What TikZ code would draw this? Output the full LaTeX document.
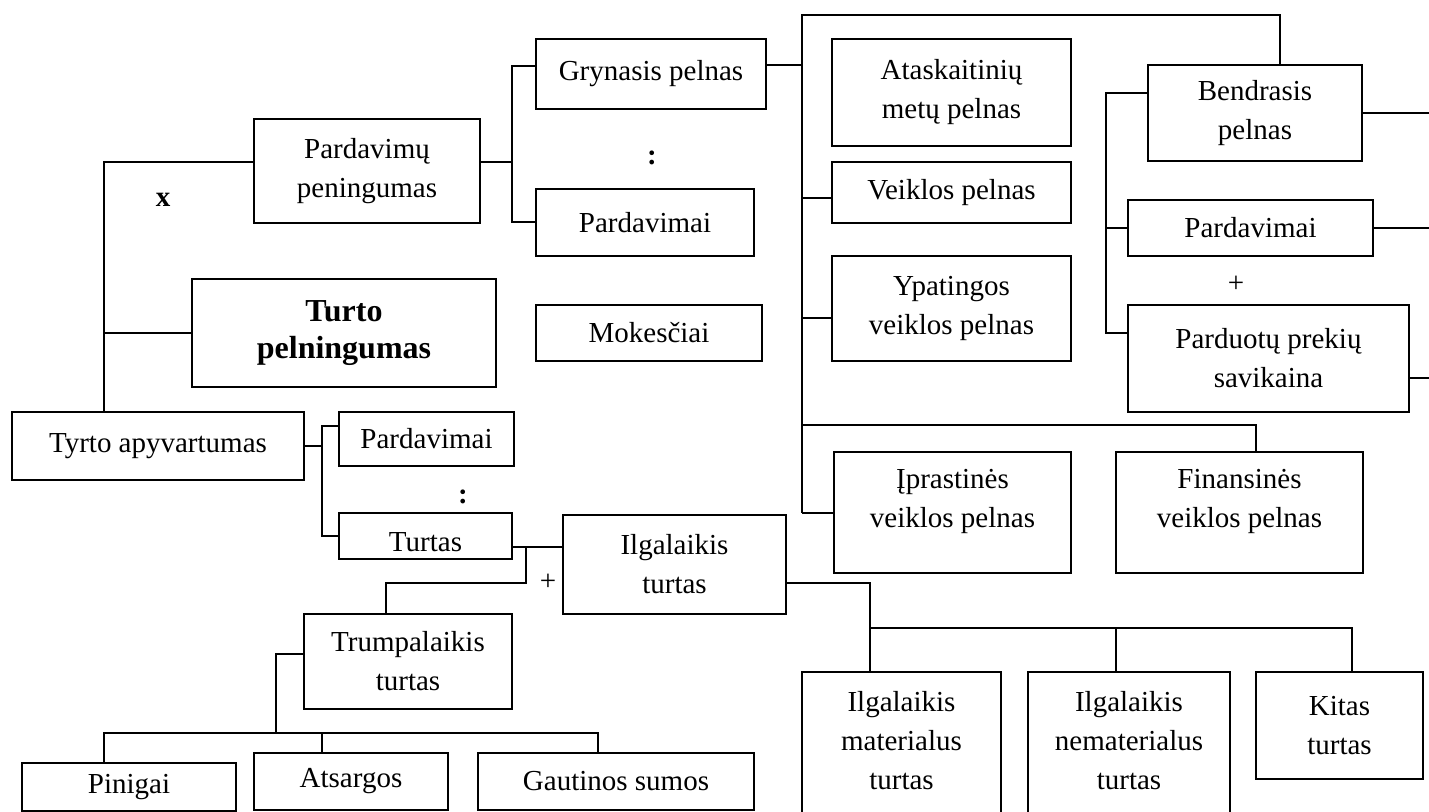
\documentclass[tikz,border=0pt]{standalone}
\usepackage{fontspec}
\setmainfont{Liberation Serif}
\usepackage{tikz}
\usetikzlibrary{positioning, calc}
\tikzset{
  block/.style={rectangle, draw, line width=1pt, align=center, inner sep=2pt,
    font=\fontsize{14.5}{19.5}\selectfont},
  wh/.style 2 args={minimum width=#1*0.5pt, minimum height=#2*0.5pt},
  line/.style={line width=1pt},
  sym/.style={font=\fontsize{14.5}{17}\selectfont\bfseries, inner sep=0pt},
  plus/.style={font=\fontsize{14.5}{17}\selectfont, inner sep=0pt}
}
\begin{document}
\begin{tikzpicture}[x=0.5pt, y=-0.5pt]
  \clip (0,0) rectangle (1429,812);
  % ── Upper left ──
  \node[block, wh={226}{104}] (pp) at (367,171) {Pardavimų\\peningumas};
  \node[block, wh={304}{108}, font=\fontsize{16}{18.5}\selectfont\bfseries] (tp) at (344,333) {Turto\\pelningumas};
  \node[block, wh={292}{68}] (ta) at (158,446) {Tyrto apyvartumas};
  \node[sym] (mx) at (163,200) {x};
  % ── Pelnas / pardavimai ──
  \node[block, wh={230}{70}] (gp) at (651,74) {Grynasis pelnas};
  \node[block, wh={218}{67}] (pd1) at (645,222.5) {Pardavimai};
  \node[block, wh={226}{56}] (mk) at (649,333) {Mokesčiai};
  \node[sym] (dv1) at (652,158) {:};
  % ── Pelno rūšys ──
  \node[block, wh={239}{107}] (amp) at (951.5,92.5) {Ataskaitinių\\metų pelnas};
  \node[block, wh={239}{61}] (vp) at (951.5,192.5) {Veiklos pelnas};
  \node[block, wh={239}{105}] (yvp) at (951.5,308.5) {Ypatingos\\veiklos pelnas};
  \node[block, wh={237}{121}, text depth=14.5pt] (ivp) at (952.5,512.5) {Įprastinės\\veiklos pelnas};
  \node[block, wh={247}{121}, text depth=14.5pt] (fvp) at (1239.5,512.5) {Finansinės\\veiklos pelnas};
  % ── Bendrasis pelnas ──
  \node[block, wh={214}{96}] (bp) at (1255,113) {Bendrasis\\pelnas};
  \node[block, wh={245}{56}] (pd2) at (1250.5,228) {Pardavimai};
  \node[block, wh={281}{107}] (pps) at (1268.5,358.5) {Parduotų prekių\\savikaina};
  \node[plus] (pl1) at (1236,284) {+};
  % ── Turtas ──
  \node[block, wh={175}{54}] (pd3) at (426.5,439) {Pardavimai};
  \node[block, wh={173}{46}, text height=16pt] (tt) at (425.5,536) {Turtas};
  \node[sym] (dv2) at (463,497) {:};
  \node[block, wh={223}{99}] (it) at (674.5,564.5) {Ilgalaikis\\turtas};
  \node[plus] (pl2) at (548,582) {+};
  \node[block, wh={208}{95}] (trt) at (408,661.5) {Trumpalaikis\\turtas};
  \node[block, wh={199}{158}, text depth=11pt] (imt) at (901.5,751) {Ilgalaikis\\materialus\\turtas};
  \node[block, wh={202}{158}, text depth=11pt] (inmt) at (1129,751) {Ilgalaikis\\nematerialus\\turtas};
  \node[block, wh={167}{107}] (kt) at (1339.5,725.5) {Kitas\\turtas};
  \node[block, wh={214}{48}] (pin) at (129,787) {Pinigai};
  \node[block, wh={194}{57}] (ats) at (351,781.5) {Atsargos};
  \node[block, wh={276}{57}] (gs) at (616,781.5) {Gautinos sumos};
  % ── Connectors ──
  \coordinate (a1) at (104,162);
  \draw[line] (a1 -| pp.west) -- (a1) -- (a1 |- ta.north);
  \draw[line] (a1 |- tp.west) -- (tp.west);
  \coordinate (b1) at (512,66);
  \coordinate (b2) at (512,162);
  \draw[line] (b2 -| pp.east) -- (b2);
  \draw[line] (b1 -| gp.west) -- (b1) |- (pd1.west);
  \coordinate (c0) at (802,15);
  \coordinate (c1) at (1280,15);
  \coordinate (c2) at (802,65);
  \coordinate (c3) at (802,425);
  \coordinate (c4) at (1256,425);
  \draw[line] (c2 -| gp.east) -- (c2);
  \draw[line] (c0 |- ivp.west) -- (c0) -- (c1) -- (c1 |- bp.north);
  \draw[line] ([yshift=-3pt]vp.west) -| (c0);
  \draw[line] ([yshift=-5pt]yvp.west) -| (c0);
  \draw[line] (ivp.west) -- (ivp.west -| c0);
  \draw[line] (c3) -- (c4) -- (c4 |- fvp.north);
  \coordinate (d0) at (1106,93);
  \coordinate (d1) at (1106,333);
  \coordinate (re) at (1429,0);
  \draw[line] (d0 -| bp.west) -- (d0) -- (d1) -- (d1 -| pps.west);
  \draw[line] (pd2.west) -- (pd2.west -| d0);
  \draw[line] (bp.east) -- (bp.east -| re);
  \draw[line] (pd2.east) -- (pd2.east -| re);
  \draw[line] ([yshift=-10pt]pps.east) -- ++(40,0);
  \coordinate (e0) at (322,426);
  \coordinate (e1) at (322,536);
  \draw[line] (ta.east) -- (ta.east -| e0);
  \draw[line] (e0 -| pd3.west) -- (e0) -- (e1) -- (tt.west);
  \coordinate (f0) at (526,547);
  \coordinate (f1) at (526,583);
  \coordinate (f2) at (386,583);
  \draw[line] (f0 -| tt.east) -- (f0 -| it.west);
  \draw[line] (f0) -- (f1) -- (f2) -- (f2 |- trt.north);
  \coordinate (g0) at (870,583);
  \coordinate (g1) at (870,628);
  \coordinate (g2) at (1352,628);
  \coordinate (g3) at (1116,628);
  \draw[line] (g0 -| it.east) -- (g0) -- (g0 |- imt.north);
  \draw[line] (g1) -- (g2) -- (g2 |- kt.north);
  \draw[line] (g3) -- (g3 |- inmt.north);
  \coordinate (h0) at (276,654);
  \coordinate (h1) at (276,733);
  \coordinate (h2) at (104,733);
  \coordinate (h3) at (598,733);
  \coordinate (h4) at (322,733);
  \draw[line] (h0 -| trt.west) -- (h0) -- (h1);
  \draw[line] (h2 |- pin.north) -- (h2) -- (h3) -- (h3 |- gs.north);
  \draw[line] (h4) -- (h4 |- ats.north);
\end{tikzpicture}
\end{document}
